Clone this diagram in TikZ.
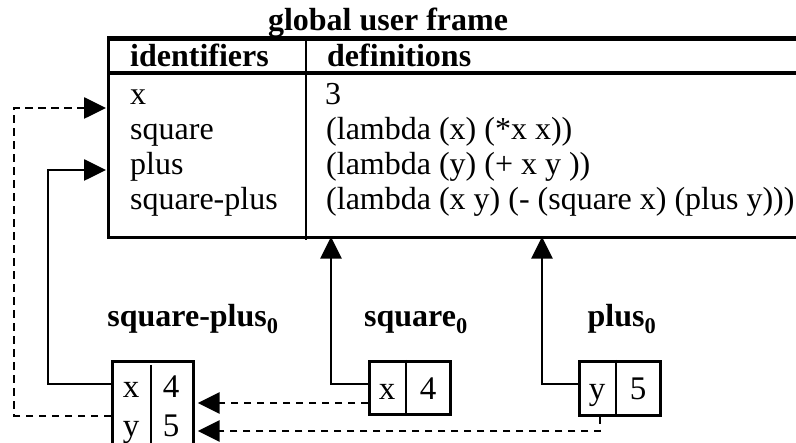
\documentclass[tikz,border=0pt]{standalone}
\usepackage{fontspec}
\setmainfont{Liberation Serif}
\usetikzlibrary{arrows.meta}
\begin{document}
\begin{tikzpicture}[x=1pt,y=-1pt,
  txt/.style={inner sep=0pt, anchor=base west, font=\fontsize{32}{36}\selectfont},
  hdr/.style={inner sep=0pt, anchor=base west, font=\fontsize{32}{36}\selectfont\bfseries},
  lbl/.style={inner sep=0pt, anchor=base, font=\fontsize{32}{36}\selectfont\bfseries},
  cell/.style={inner sep=0pt, anchor=base, font=\fontsize{33}{36}\selectfont},
  ln/.style={line width=2.7pt},
  dsh/.style={line width=2.7pt, dash pattern=on 7.5pt off 5.5pt},
  tip/.style={-{Triangle[length=22pt,width=21pt]}},
  boxn/.style={draw, line width=2.7pt, anchor=north west, inner sep=0pt},
]
\useasboundingbox (0,0) rectangle (796,443);
\fill[white] (0,0) rectangle (796,443);
\clip (0,0) rectangle (796,443);

% global frame
\node[boxn, minimum width=720pt, minimum height=198pt] (frame) at (107,38) {};
\draw[line width=3.3pt] (frame.north west) -- (frame.north east);
\draw[line width=3.3pt] (frame.west |- 0,73) -- (frame.east |- 0,73);
\draw[ln] (306,38) -- (306,240);

\node[lbl] (title) at (388,31) {global user frame};
\node[hdr] (hid) at (130,67) {identifiers};
\node[hdr] (hdef) at (327,67) {definitions};

\node[txt] (ix) at (130,105) {x};
\node[txt] (isq) at (130,140) {square};
\node[txt] (ipl) at (130,175) {plus};
\node[txt] (isp) at (130,210) {square-plus};

\node[txt] (dx) at (325,105) {3};
\node[txt] (dsq) at (326,140) {(lambda (x) (*x x))};
\node[txt] (dpl) at (326,175) {(lambda (y) (+ x y ))};
\node[txt] (dsp) at (326,210) {(lambda (x y) (- (square x) (plus y)))};

% frames
\node[boxn, minimum width=81pt, minimum height=100pt] (sp) at (111,360) {};
\draw[ln] (151,365) -- (151,460);
\node[cell] (spx) at (131,398) {x};
\node[cell] (sp4) at (171,398) {4};
\node[cell] (spy) at (131,437) {y};
\node[cell] (sp5) at (171,437) {5};

\node[boxn, minimum width=81pt, minimum height=53pt] (sq) at (368,360) {};
\draw[ln] (sq.north -| 406,0) -- (sq.south -| 406,0);
\node[cell] (sqx) at (387,400) {x};
\node[cell] (sq4) at (428,400) {4};

\node[boxn, minimum width=81pt, minimum height=54pt] (pl) at (578,360) {};
\draw[ln] (pl.north -| 616,0) -- (pl.south -| 616,0);
\node[cell] (ply) at (597,400) {y};
\node[cell] (pl5) at (638,400) {5};

\node[lbl] (lsp) at (193,327) {square-plus\textsubscript{0}};
\node[lbl] (lsq) at (416,327) {square\textsubscript{0}};
\node[lbl] (lpl) at (622,327) {plus\textsubscript{0}};

% connectors
\draw[ln,tip,shorten >=-2pt] (sq.west |- 0,384) -| (frame.south -| 331,0);
\draw[ln,tip,shorten >=-2pt] (pl.west |- 0,384) -| (frame.south -| 542,0);
\draw[ln,tip,shorten >=1pt] (sp.west |- 0,384) -| (48,170) -- (frame.west |- 0,170);
\draw[dsh,tip,shorten >=1pt] (sp.west |- 0,416) -| (14,108) -- (frame.west |- 0,108);
\draw[dsh,tip,shorten >=3pt] (sq.west |- 0,403) -- (sp.east |- 0,403);
\draw[dsh,tip,shorten >=3pt] (pl.south -| 600,0) |- (sp.east |- 0,431);
\end{tikzpicture}
\end{document}
